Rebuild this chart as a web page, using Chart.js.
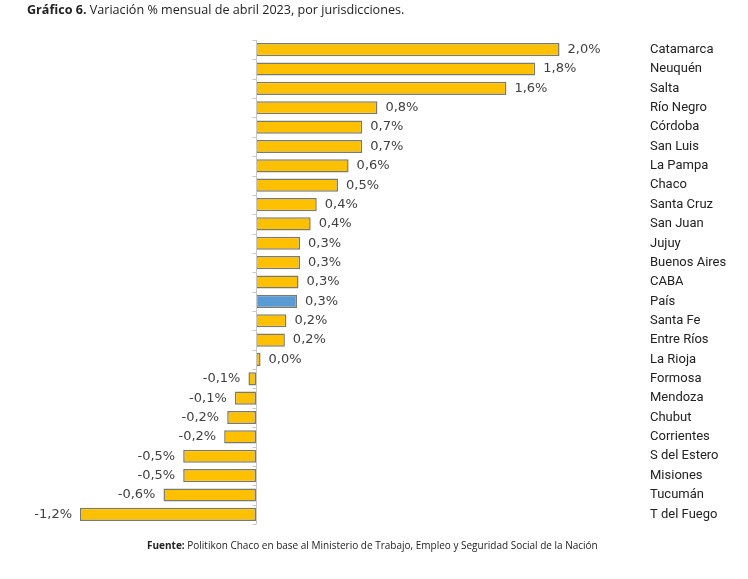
<!DOCTYPE html>
<html>
<head>
<meta charset="utf-8">
<script src="https://cdn.jsdelivr.net/npm/chart.js@4/dist/chart.umd.min.js"></script>
<style>
  body { margin: 0; background: #fff; }
  #wrap { position: relative; width: 748px; height: 579px; }
  #title { position: absolute; left: 27px; top: 1px; font-family: "Open Sans", sans-serif; font-size: 12.6px; color: #222; }
  #title b { font-weight: 700; }
  #source { position: absolute; left: 147px; top: 538px; font-family: "Open Sans", sans-serif; font-size: 10px; color: #222; white-space: nowrap; }
  #source b { font-weight: 700; }
  canvas { position: absolute; left: 0; top: 0; }
</style>
</head>
<body>
<div id="wrap">
  <canvas id="chart" width="748" height="579"></canvas>
  <div id="title"><b>Gráfico 6.</b> Variación % mensual de abril 2023, por jurisdicciones.</div>
  <div id="source"><b>Fuente:</b> Politikon Chaco en base al Ministerio de Trabajo, Empleo y Seguridad Social de la Nación</div>
</div>
<script>
// jurisdictions, top to bottom
const provinces = [
  'Catamarca', 'Neuquén', 'Salta', 'Río Negro', 'Córdoba', 'San Luis',
  'La Pampa', 'Chaco', 'Santa Cruz', 'San Juan', 'Jujuy', 'Buenos Aires',
  'CABA', 'País', 'Santa Fe', 'Entre Ríos', 'La Rioja', 'Formosa',
  'Mendoza', 'Chubut', 'Corrientes', 'S del Estero', 'Misiones',
  'Tucumán', 'T del Fuego'
];

// monthly variation % (bar lengths)
const variation = [
  2.00, 1.84, 1.65, 0.80, 0.70, 0.70,
  0.61, 0.54, 0.40, 0.36, 0.29, 0.29,
  0.28, 0.27, 0.20, 0.19, 0.03, -0.05,
  -0.14, -0.19, -0.21, -0.48, -0.48,
  -0.61, -1.16
];

// labels as printed on the chart
const valueLabels = [
  '2,0%', '1,8%', '1,6%', '0,8%', '0,7%', '0,7%',
  '0,6%', '0,5%', '0,4%', '0,4%', '0,3%', '0,3%',
  '0,3%', '0,3%', '0,2%', '0,2%', '0,0%', '-0,1%',
  '-0,1%', '-0,2%', '-0,2%', '-0,5%', '-0,5%',
  '-0,6%', '-1,2%'
];

const yellow = '#FFC000';
const blue = '#5B9BD5';

// draws the zero axis, its small ticks and the value labels
const labelPlugin = {
  id: 'valueLabels',
  afterDatasetsDraw(chart) {
    const ctx = chart.ctx;
    const xScale = chart.scales.x;
    const x0 = Math.round(xScale.getPixelForValue(0)) + 0.5;
    const area = chart.chartArea;

    ctx.save();
    ctx.strokeStyle = '#c8c8c8';
    ctx.lineWidth = 1;
    ctx.beginPath();
    ctx.moveTo(x0, area.top);
    ctx.lineTo(x0, area.bottom);
    const step = (area.bottom - area.top) / provinces.length;
    for (let i = 0; i <= provinces.length; i++) {
      const y = Math.round(area.top + i * step) + 0.5;
      ctx.moveTo(x0 - 4, y);
      ctx.lineTo(x0, y);
    }
    ctx.stroke();

    ctx.font = '13px "DejaVu Sans", sans-serif';
    ctx.fillStyle = '#404040';
    ctx.textBaseline = 'middle';
    const meta = chart.getDatasetMeta(0);
    meta.data.forEach((bar, i) => {
      if (variation[i] >= 0) {
        ctx.textAlign = 'left';
        ctx.fillText(valueLabels[i], bar.x + 8, bar.y);
      } else {
        ctx.textAlign = 'right';
        ctx.fillText(valueLabels[i], bar.x - 8, bar.y);
      }
    });
    ctx.restore();
  }
};

new Chart(document.getElementById('chart'), {
  type: 'bar',
  data: {
    labels: provinces,
    datasets: [{
      data: variation,
      backgroundColor: provinces.map(p => p == 'País' ? blue : yellow),
      borderColor: '#7a7a6e',
      borderWidth: 1.5,
      borderSkipped: false,
      barPercentage: 0.68,
      categoryPercentage: 1.0
    }]
  },
  options: {
    indexAxis: 'y',
    responsive: false,
    animation: false,
    layout: { padding: { left: 36, top: 40, bottom: 55, right: 0 } },
    plugins: {
      legend: { display: false },
      tooltip: { enabled: false }
    },
    scales: {
      x: {
        display: false,
        min: -1.45,
        max: 2.55
      },
      y: {
        position: 'right',
        afterFit(scale) { scale.width = 105; },
        grid: { display: false, drawTicks: false },
        border: { display: false },
        ticks: {
          padding: 7,
          color: '#222',
          font: { family: 'Roboto', size: 13 }
        }
      }
    }
  },
  plugins: [labelPlugin]
});
</script>
</body>
</html>
